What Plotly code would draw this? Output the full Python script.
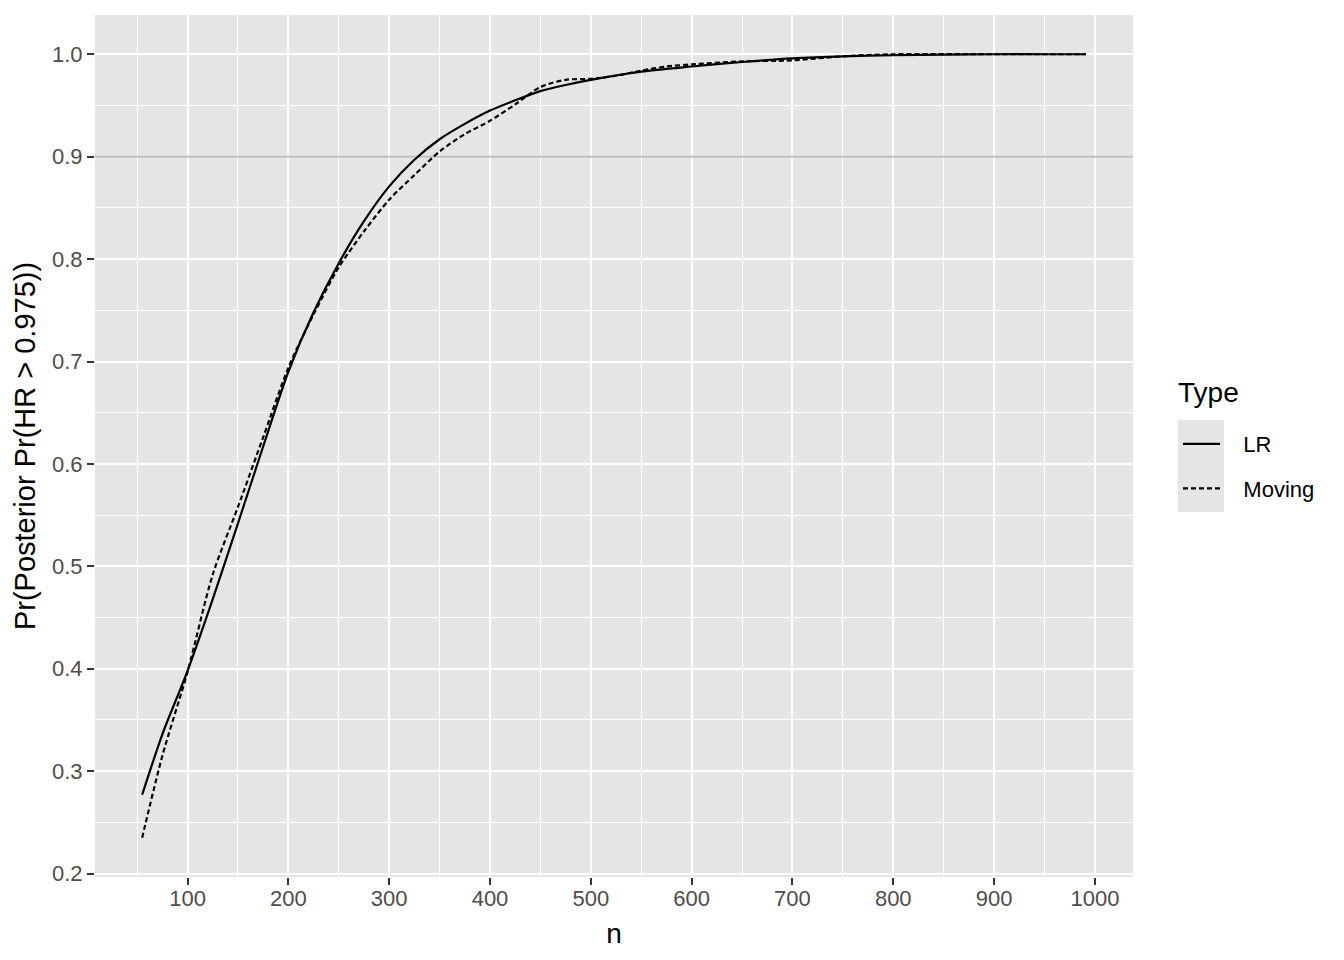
import plotly.graph_objects as go

# ---- data ----
lr_n = [55, 75, 100, 125, 150, 175, 200, 225, 250, 275, 300, 325, 350, 375, 400,
        425, 450, 475, 500, 550, 600, 650, 700, 750, 800, 850, 900, 950, 991]
lr_p = [0.277, 0.336, 0.398, 0.468, 0.542, 0.617, 0.690, 0.748, 0.796, 0.837, 0.871,
        0.897, 0.917, 0.932, 0.945, 0.955, 0.964, 0.970, 0.975, 0.983, 0.988, 0.9924,
        0.996, 0.998, 0.999, 0.9997, 1.0, 1.0, 1.0]

mv_n = [55, 75, 100, 125, 150, 175, 200, 225, 250, 275, 300, 325, 350, 375, 400,
        425, 450, 475, 500, 525, 550, 575, 600, 650, 700, 750, 800, 900, 991]
mv_p = [0.235, 0.315, 0.397, 0.492, 0.558, 0.626, 0.694, 0.746, 0.792, 0.827, 0.858,
        0.882, 0.905, 0.922, 0.935, 0.951, 0.968, 0.975, 0.976, 0.979, 0.984, 0.988,
        0.990, 0.993, 0.994, 0.998, 1.0, 1.0, 1.0]

series_names = ["LR", "Moving"]
threshold = 0.9
x_ticks = [100, 200, 300, 400, 500, 600, 700, 800, 900, 1000]
y_ticks = [0.2, 0.3, 0.4, 0.5, 0.6, 0.7, 0.8, 0.9, 1.0]

FONT = "Liberation Sans, Arial, Helvetica, sans-serif"

# page-pixel geometry of the panel (page has an 8px body margin)
PX0, PX1, PY0, PY1 = 95, 1133, 15, 877


def px(x):
    return (x - PX0) / (PX1 - PX0)


def py(y):
    return (PY1 - y) / (PY1 - PY0)


PAD = "\u00a0\u00a0\u00a0"  # gap between legend key and label

fig = go.Figure()

fig.add_trace(go.Scatter(
    x=[7, 1040], y=[threshold, threshold], mode="lines",
    line=dict(color="#bebebe", width=2), showlegend=False, hoverinfo="skip"))

fig.add_trace(go.Scatter(
    x=lr_n, y=lr_p, mode="lines", name=PAD + series_names[0], legendgroup="a",
    line=dict(color="black", width=2.2, shape="spline", smoothing=0.8)))

fig.add_trace(go.Scatter(
    x=mv_n, y=mv_p, mode="lines", name=PAD + series_names[1], legendgroup="b",
    line=dict(color="black", width=2.2, dash="5px,3px", shape="spline", smoothing=0.8)))

axis_common = dict(
    showgrid=True, gridcolor="white", gridwidth=2,
    ticks="outside", ticklen=7, tickwidth=2, tickcolor="#333333",
    tickfont=dict(family=FONT, size=22, color="#4d4d4d"),
    zeroline=False, showline=False,
)

fig.update_xaxes(
    range=[8.2, 1037.8], tickvals=x_ticks, ticklabelstandoff=-5,
    minor=dict(dtick=50, tick0=0, showgrid=True, gridcolor="white", gridwidth=1, ticks=""),
    title=dict(text="n", font=dict(family=FONT, size=28, color="black"), standoff=12),
    **axis_common)
fig.update_yaxes(
    range=[0.1967, 1.0383], tickvals=y_ticks, tickformat=".1f",
    minor=dict(dtick=0.05, tick0=0, showgrid=True, gridcolor="white", gridwidth=1, ticks=""),
    title=dict(text="Pr(Posterior Pr(HR > 0.975))", font=dict(family=FONT, size=29, color="black"),
               standoff=7),
    **axis_common)

# grey legend-key background
fig.add_shape(type="rect", xref="paper", yref="paper",
              x0=px(1178), x1=px(1224), y0=py(512), y1=py(420),
              fillcolor="#e5e5e5", line=dict(width=0), layer="below")

fig.add_annotation(text="Type", xref="paper", yref="paper", x=px(1176), y=py(392),
                   xanchor="left", yanchor="middle", showarrow=False,
                   font=dict(family=FONT, size=28, color="black"))

fig.update_layout(
    width=1336, height=952,
    margin=dict(l=PX0 - 8, r=1344 - PX1, t=PY0 - 8, b=960 - PY1),
    plot_bgcolor="#e5e5e5", paper_bgcolor="white",
    font=dict(family=FONT),
    legend=dict(
        x=px(1178), y=py(423), xanchor="left", yanchor="top",
        font=dict(family=FONT, size=22, color="black"),
        bgcolor="rgba(0,0,0,0)", tracegroupgap=13, itemwidth=37,
    ),
)

fig.write_html("out.html")
